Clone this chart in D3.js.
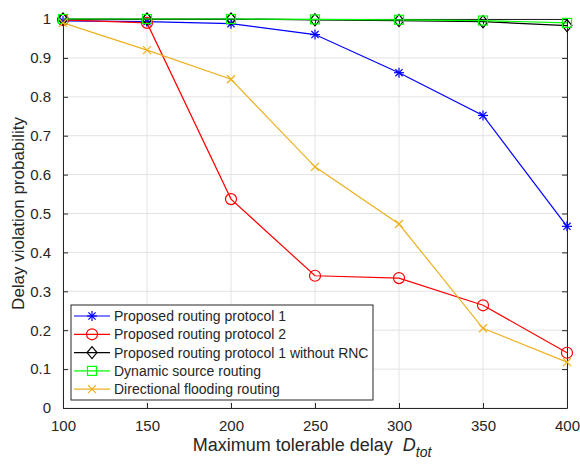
<!DOCTYPE html>
<head>
	<script src="https://d3js.org/d3.v7.min.js"></script>
	<style>
		body { margin: 0; background: #fff; }
		text { font-family: "Liberation Sans", Arial, sans-serif; fill: #262626; }
	</style>
</head>
<body>
	<script type="text/javascript">
		// chart values
		var delays = [100, 150, 200, 250, 300, 350, 400];
		var proto1 = [0.995, 0.993, 0.988, 0.96, 0.862, 0.752, 0.467];
		var proto2 = [0.998, 0.99, 0.537, 0.34, 0.334, 0.264, 0.142];
		var proto1NoRnc = [1, 1, 1, 0.998, 0.996, 0.993, 0.983];
		var dsr = [1, 1, 1, 0.999, 0.998, 0.996, 0.99];
		var flooding = [0.99, 0.92, 0.845, 0.62, 0.473, 0.205, 0.118];
		var yTicks = [0, 0.1, 0.2, 0.3, 0.4, 0.5, 0.6, 0.7, 0.8, 0.9, 1];
		var seriesNames = ["Proposed routing protocol 1", "Proposed routing protocol 2",
			"Proposed routing protocol 1 without RNC", "Dynamic source routing", "Directional flooding routing"];

		var series = [
			{ name: seriesNames[0], values: proto1, color: "#0000ff", marker: "star" },
			{ name: seriesNames[1], values: proto2, color: "#ff0000", marker: "circle" },
			{ name: seriesNames[2], values: proto1NoRnc, color: "#000000", marker: "diamond" },
			{ name: seriesNames[3], values: dsr, color: "#00ff00", marker: "square" },
			{ name: seriesNames[4], values: flooding, color: "#EDB120", marker: "cross" }
		];

		var width = 580, height = 466;
		var plotL = 63, plotR = 567, plotT = 19, plotB = 408;

		var svg = d3.select("body").append("svg")
			.attr("width", width)
			.attr("height", height);

		var x = d3.scaleLinear().domain([100, 400]).range([plotL, plotR]);
		var y = d3.scaleLinear().domain([0, 1]).range([plotB, plotT]);

		// grid
		svg.append("g").selectAll("line")
			.data(delays)
			.enter().append("line")
			.attr("x1", d => x(d)).attr("x2", d => x(d))
			.attr("y1", plotT).attr("y2", plotB)
			.attr("stroke", "#e3e3e3").attr("stroke-width", 1);
		svg.append("g").selectAll("line")
			.data(yTicks)
			.enter().append("line")
			.attr("x1", plotL).attr("x2", plotR)
			.attr("y1", d => y(d)).attr("y2", d => y(d))
			.attr("stroke", "#e3e3e3").attr("stroke-width", 1);

		// axes with inward ticks, box on
		svg.append("g")
			.attr("transform", "translate(0," + plotB + ")")
			.call(d3.axisBottom(x).tickValues(delays).tickSizeInner(-5).tickSizeOuter(0).tickPadding(12));
		svg.append("g")
			.attr("transform", "translate(" + plotL + ",0)")
			.call(d3.axisLeft(y).tickValues(yTicks).tickFormat(d3.format("~g")).tickSizeInner(-5).tickSizeOuter(0).tickPadding(12));
		svg.append("g")
			.attr("transform", "translate(0," + plotT + ")")
			.call(d3.axisTop(x).tickValues(delays).tickSizeInner(-5).tickSizeOuter(0).tickFormat(""));
		svg.append("g")
			.attr("transform", "translate(" + plotR + ",0)")
			.call(d3.axisRight(y).tickValues(yTicks).tickSizeInner(-5).tickSizeOuter(0).tickFormat(""));

		svg.selectAll(".domain").attr("stroke", "#262626");
		svg.selectAll(".tick line").attr("stroke", "#262626");
		svg.selectAll(".tick text").style("font-size", "15px").attr("fill", "#262626");

		// markers
		function drawMarker(g, type, color, cx, cy) {
			if (type === "star") {
				var s = 5;
				[[-s, 0, s, 0], [0, -s, 0, s], [-3.6, -3.6, 3.6, 3.6], [-3.6, 3.6, 3.6, -3.6]].forEach(function (p) {
					g.append("line").attr("x1", cx + p[0]).attr("y1", cy + p[1]).attr("x2", cx + p[2]).attr("y2", cy + p[3])
						.attr("stroke", color).attr("stroke-width", 1.2);
				});
			} else if (type === "circle") {
				g.append("circle").attr("cx", cx).attr("cy", cy).attr("r", 5.5)
					.attr("fill", "none").attr("stroke", color).attr("stroke-width", 1.2);
			} else if (type === "diamond") {
				g.append("path").attr("d", "M" + cx + "," + (cy - 6) + "L" + (cx + 5) + "," + cy + "L" + cx + "," + (cy + 6) + "L" + (cx - 5) + "," + cy + "Z")
					.attr("fill", "none").attr("stroke", color).attr("stroke-width", 1.2);
			} else if (type === "square") {
				g.append("rect").attr("x", cx - 4.5).attr("y", cy - 4.5).attr("width", 9).attr("height", 9)
					.attr("fill", "none").attr("stroke", color).attr("stroke-width", 1.2);
			} else if (type === "cross") {
				[[-4, -4, 4, 4], [-4, 4, 4, -4]].forEach(function (p) {
					g.append("line").attr("x1", cx + p[0]).attr("y1", cy + p[1]).attr("x2", cx + p[2]).attr("y2", cy + p[3])
						.attr("stroke", color).attr("stroke-width", 1.2);
				});
			}
		}

		var line = d3.line().x((d, i) => x(delays[i])).y(d => y(d));

		series.forEach(function (s) {
			var g = svg.append("g");
			g.append("path").datum(s.values)
				.attr("d", line)
				.attr("fill", "none")
				.attr("stroke", s.color)
				.attr("stroke-width", 1.2);
			s.values.forEach(function (v, i) {
				drawMarker(g, s.marker, s.color, x(delays[i]), y(v));
			});
		});

		// legend
		var lg = svg.append("g");
		lg.append("rect").attr("x", 71).attr("y", 305).attr("width", 302).attr("height", 95)
			.attr("fill", "#fff").attr("stroke", "#262626").attr("stroke-width", 1);
		series.forEach(function (s, i) {
			var ly = 316 + i * 18.3;
			lg.append("line").attr("x1", 74).attr("x2", 110).attr("y1", ly).attr("y2", ly)
				.attr("stroke", s.color).attr("stroke-width", 1.2);
			drawMarker(lg, s.marker, s.color, 92, ly);
			lg.append("text").attr("x", 114).attr("y", ly + 5)
				.style("font-size", "14px").text(s.name);
		});

		// axis labels
		var xl = svg.append("text")
			.attr("x", 312).attr("y", 451)
			.attr("text-anchor", "middle")
			.style("font-size", "18px");
		xl.append("tspan").text("Maximum tolerable delay");
		xl.append("tspan").attr("dx", 10).style("font-style", "italic").text("D");
		xl.append("tspan").style("font-style", "italic").style("font-size", "14px").attr("dy", 6).text("tot");

		svg.append("text")
			.attr("transform", "translate(24," + ((plotT + plotB) / 2) + ") rotate(-90)")
			.attr("text-anchor", "middle")
			.style("font-size", "17px")
			.text("Delay violation probability");
	</script>
</body>
